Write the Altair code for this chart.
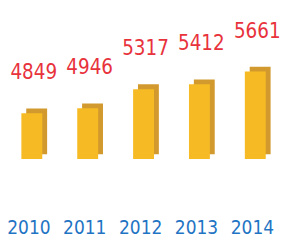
import altair as alt
import pandas as pd

years = ["2010", "2011", "2012", "2013", "2014"]
values = [4849, 4946, 5317, 5412, 5661]

df = pd.DataFrame({"year": years, "value": values})

FONT = "DejaVu Sans Condensed, Liberation Sans Narrow, sans-serif"

xscale = alt.Scale(paddingInner=0.626, paddingOuter=0.135)
x = alt.X(
    "year:O",
    scale=xscale,
    axis=alt.Axis(
        title=None, domain=False, ticks=False, grid=False, labelAngle=0,
        labelFont=FONT, labelFontSize=19.5, labelColor="#1f74c4",
        labelPadding=62, labelOffset=-3,
    ),
)
y = alt.Y("value:Q", scale=alt.Scale(domain=[3962, 6830], zero=False), axis=None)

base = alt.Chart(df).encode(x=x, y=y, y2=alt.datum(3962))

back = base.mark_bar(color="#d29a2e", xOffset=5, x2Offset=5, yOffset=-5, y2Offset=-5)
front = base.mark_bar(color="#f6bb24")
labels = alt.Chart(df).mark_text(
    font=FONT, fontSize=21, color="#e8323c", baseline="alphabetic", dy=-35, dx=2
).encode(x=x, y=y, text="value:Q")

chart = alt.layer(back, front, labels).properties(
    width=267, height=152,
    autosize=alt.AutoSizeParams(type="none"),
    padding={"left": 6, "top": 0, "right": 10, "bottom": 82},
    background="white",
).configure_view(stroke=None)

chart.save("out.html", embed_options={"renderer": "svg", "actions": False})
